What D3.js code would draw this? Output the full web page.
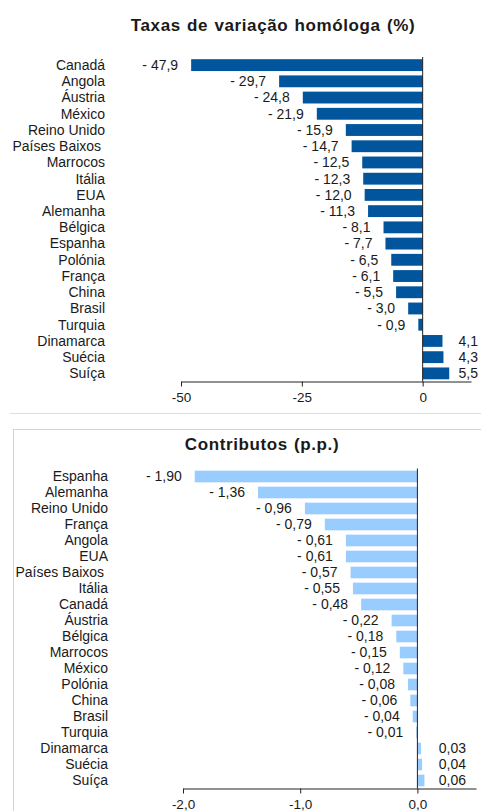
<!DOCTYPE html>
<html>
<head>
<meta charset="utf-8">
<script src="https://d3js.org/d3.v7.min.js"></script>
<title>Taxas de variação e contributos</title>
<style>
  body { margin: 0; background: #fff; }
  svg text { font-family: "Liberation Sans", Arial, sans-serif; fill: #1a1a1a; white-space: pre; }
</style>
</head>
<body>
<div id="chart"></div>
<script type="text/javascript">

// taxas de variação homóloga (%)
var paisesTaxa = ["Canadá", "Angola", "Áustria", "México", "Reino Unido", "Países Baixos ", "Marrocos",
  "Itália", "EUA", "Alemanha", "Bélgica", "Espanha", "Polónia", "França", "China", "Brasil",
  "Turquia", "Dinamarca", "Suécia", "Suíça"];
var valoresTaxa = [-47.9, -29.7, -24.8, -21.9, -15.9, -14.7, -12.5, -12.3, -12.0, -11.3, -8.1, -7.7,
  -6.5, -6.1, -5.5, -3.0, -0.9, 4.1, 4.3, 5.5];
var ticksTaxa = [-50, -25, 0];

// contributos (p.p.)
var paisesContrib = ["Espanha", "Alemanha", "Reino Unido", "França", "Angola", "EUA", "Países Baixos ",
  "Itália", "Canadá", "Áustria", "Bélgica", "Marrocos", "México", "Polónia", "China", "Brasil",
  "Turquia", "Dinamarca", "Suécia", "Suíça"];
var valoresContrib = [-1.90, -1.36, -0.96, -0.79, -0.61, -0.61, -0.57, -0.55, -0.48, -0.22, -0.18,
  -0.15, -0.12, -0.08, -0.06, -0.04, -0.01, 0.03, 0.04, 0.06];
var ticksContrib = [-2, -1, 0];

var svg = d3.select("#chart").append("svg")
  .attr("width", 481)
  .attr("height", 811);

// moldura do segundo painel
svg.append("line").attr("x1", 10).attr("x2", 481).attr("y1", 413.5).attr("y2", 413.5)
  .attr("stroke", "#dedede");
svg.append("rect").attr("x", 13.5).attr("y", 429.5).attr("width", 480).attr("height", 400)
  .attr("fill", "none").attr("stroke", "#d4d4d4");

function fmt(v, dec) {
  var s = Math.abs(v).toFixed(dec).replace(".", ",");
  return v < 0 ? "- " + s : s;
}

function drawPanel(opt) {
  var g = svg.append("g");
  var x = d3.scaleLinear().domain(opt.domain).range([opt.x0, opt.x1]);
  var y = d3.scaleBand().domain(opt.cats).range([opt.y0, opt.y1])
    .paddingInner(0.27).paddingOuter(0.135);

  g.append("text")
    .attr("x", opt.titleX).attr("y", opt.titleY)
    .attr("text-anchor", "middle")
    .style("font-size", "17px").style("font-weight", "bold")
    .style("letter-spacing", "0.6px")
    .style("word-spacing", "1px")
    .text(opt.title);

  var data = opt.cats.map(function (c, i) { return { c: c, v: opt.vals[i] }; });

  g.selectAll("rect.bar").data(data).enter().append("rect")
    .attr("class", "bar")
    .attr("x", function (d) { return x(Math.min(0, d.v)); })
    .attr("y", function (d) { return y(d.c); })
    .attr("width", function (d) { return Math.abs(x(d.v) - x(0)); })
    .attr("height", y.bandwidth())
    .attr("fill", opt.color);

  // eixo vertical no zero
  g.append("line")
    .attr("x1", x(0)).attr("x2", x(0))
    .attr("y1", opt.y0).attr("y2", opt.y1)
    .attr("stroke", "#222").attr("stroke-width", 1);

  // nomes dos países
  g.selectAll("text.cat").data(data).enter().append("text")
    .attr("class", "cat")
    .attr("x", opt.labelX)
    .attr("y", function (d) { return y(d.c) + y.bandwidth() / 2; })
    .attr("dy", "0.35em")
    .attr("text-anchor", "end")
    .style("font-size", "14px")
    .text(function (d) { return d.c; });

  // valores
  g.selectAll("text.val").data(data).enter().append("text")
    .attr("class", "val")
    .attr("x", function (d) { return d.v < 0 ? x(d.v) - 13 : opt.posLabelX; })
    .attr("y", function (d) { return y(d.c) + y.bandwidth() / 2; })
    .attr("dy", "0.35em")
    .attr("text-anchor", "end")
    .style("font-size", "14px")
    .text(function (d) { return fmt(d.v, opt.dec); });

  // eixo x
  var axis = g.append("g")
    .attr("transform", "translate(0," + opt.y1 + ")")
    .call(d3.axisBottom(x).tickValues(opt.ticks).tickSize(5).tickSizeOuter(0)
      .tickFormat(function (d) { return d.toFixed(opt.tickDec).replace(".", ","); }));
  axis.select(".domain").attr("stroke", "#222");
  axis.selectAll(".tick line").attr("stroke", "#222");
  axis.selectAll(".tick text")
    .style("font-size", "13.5px")
    .style("font-family", "'Liberation Sans', Arial, sans-serif")
    .attr("fill", "#1a1a1a")
    .attr("dy", "0.95em");
}

drawPanel({
  title: "Taxas de variação homóloga (%)", titleX: 273, titleY: 31,
  cats: paisesTaxa, vals: valoresTaxa, ticks: ticksTaxa, dec: 1, tickDec: 0,
  domain: [-50, 10], x0: 181, x1: 471, y0: 57, y1: 381.5,
  labelX: 105, posLabelX: 478, color: "#00559d"
});

drawPanel({
  title: "Contributos (p.p.)", titleX: 262, titleY: 450,
  cats: paisesContrib, vals: valoresContrib, ticks: ticksContrib, dec: 2, tickDec: 1,
  domain: [-2, 0.5], x0: 183, x1: 476, y0: 468.5, y1: 788.5,
  labelX: 108, posLabelX: 466, color: "#99ccff"
});

</script>
</body>
</html>
